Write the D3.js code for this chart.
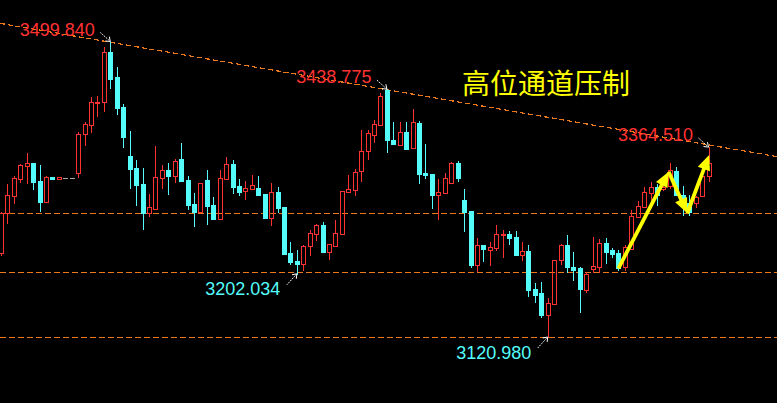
<!DOCTYPE html>
<html><head><meta charset="utf-8">
<script src="https://cdn.jsdelivr.net/npm/d3@7"></script>
<style>html,body{margin:0;padding:0;background:#000;overflow:hidden}svg{display:block}</style>
</head><body><svg id="c" width="777" height="403"></svg>
<script>
// ---- data ----
const open = [3228.7,3280.3,3302.1,3323.9,3340.6,3344.1,3321.0,3294.5,3325.7,3323.9,
3325.2,3325.2,3331.6,3380.9,3393.2,3421.4,3421.9,3486.4,3454.3,3415.9,
3353.1,3337.7,3317.1,3279.6,3285.5,3325.2,3335.1,3327.8,3349.2,3322.3,
3291.5,3281.6,3322.3,3290.2,3272.7,3323.9,3342.8,3314.6,3307.8,3311.1,
3312.0,3304.3,3274.0,3306.9,3287.7,3228.7,3218.4,3214.6,3237.7,3253.4,
3264.6,3230.0,3237.7,3253.4,3306.9,3309.8,3334.2,3359.1,3380.4,3393.2,
3437.7,3373.6,3367.5,3383.8,3363.7,3395.4,3331.6,3330.0,3303.4,3306.0,
3318.8,3344.1,3296.6,3282.5,3213.3,3239.0,3232.5,3235.1,3251.8,3253.1,
3249.2,3226.1,3231.3,3182.5,3177.4,3149.2,3163.3,3219.7,3239.0,3210.7,
3209.5,3181.3,3208.2,3210.7,3241.5,3232.5,3228.7,3210.7,3233.8,3274.9,
3287.7,3305.6,3313.3,3310.8,3314.6,3333.8,3303.0,3292.8,3292.8,3301.8,
3327.4];
const close = [3280.0,3303.0,3324.4,3341.1,3343.7,3319.7,3294.1,3326.1,3323.9,3325.7,
3325.2,3325.2,3381.3,3394.1,3422.3,3422.3,3486.4,3451.8,3414.6,3377.8,
3336.8,3316.3,3279.6,3287.3,3326.1,3335.1,3327.8,3346.6,3321.4,3290.6,
3281.2,3318.4,3289.3,3272.7,3324.9,3342.8,3313.7,3306.9,3312.0,3315.9,
3303.0,3273.6,3306.9,3286.8,3227.4,3217.2,3214.6,3237.7,3254.3,3264.6,
3230.0,3240.2,3254.3,3308.2,3310.8,3332.5,3359.5,3382.5,3394.1,3430.0,
3373.6,3368.4,3383.8,3362.4,3396.7,3330.0,3328.7,3303.0,3306.9,3324.9,
3344.1,3324.9,3281.2,3213.3,3239.0,3233.8,3236.4,3253.1,3253.1,3247.9,
3226.1,3231.3,3181.3,3174.8,3149.2,3164.6,3219.7,3239.0,3210.7,3206.9,
3182.5,3201.8,3212.0,3241.5,3230.0,3227.4,3209.5,3236.4,3276.1,3289.0,
3306.9,3313.3,3303.0,3313.3,3335.1,3303.0,3292.8,3281.2,3300.5,3327.4,
3344.1];
const high = [3281.2,3317.1,3327.4,3342.8,3356.5,3344.1,3341.1,3327.4,3325.7,3325.7,
3325.2,3325.2,3383.8,3396.7,3428.3,3430.0,3492.4,3499.84,3467.2,3419.7,
3385.1,3347.9,3337.7,3304.3,3365.9,3341.5,3343.7,3349.2,3369.7,3327.4,
3305.6,3318.4,3335.1,3300.9,3335.1,3351.8,3347.9,3323.6,3321.0,3328.7,
3327.4,3304.3,3318.4,3313.3,3287.7,3242.8,3232.5,3238.6,3258.2,3265.9,
3268.4,3240.2,3271.0,3308.2,3328.7,3336.4,3386.4,3386.4,3399.2,3433.8,
3438.775,3396.7,3396.7,3396.7,3413.3,3397.9,3368.4,3330.0,3323.6,3331.3,
3345.4,3346.6,3310.8,3282.5,3247.9,3239.0,3242.8,3264.6,3258.2,3256.9,
3256.9,3242.8,3239.0,3190.2,3191.5,3171.0,3219.7,3240.2,3251.8,3230.0,
3210.7,3204.3,3249.2,3246.6,3247.9,3235.1,3232.5,3239.0,3283.8,3295.4,
3313.3,3319.7,3317.1,3315.9,3344.1,3339.0,3314.6,3303.0,3301.8,3327.4,
3364.51];
const low = [3226.1,3267.5,3292.4,3320.1,3318.8,3311.1,3282.9,3294.5,3323.9,3323.9,
3325.2,3325.2,3326.5,3367.5,3383.8,3404.3,3411.1,3439.9,3406.9,3364.6,
3312.4,3290.6,3259.1,3276.5,3285.5,3312.4,3304.7,3319.7,3321.4,3285.5,
3263.7,3281.6,3266.3,3272.7,3272.7,3323.9,3306.0,3303.4,3298.3,3311.1,
3303.0,3273.6,3265.0,3281.6,3227.4,3214.6,3202.034,3206.9,3226.1,3245.4,
3230.0,3221.0,3237.7,3253.4,3306.9,3303.4,3321.4,3349.2,3371.4,3393.2,
3358.6,3368.4,3367.5,3362.4,3363.7,3318.8,3325.2,3286.4,3272.3,3306.0,
3318.8,3321.4,3256.9,3211.1,3206.0,3218.4,3213.3,3232.5,3223.6,3240.2,
3226.1,3219.7,3173.6,3165.9,3146.6,3120.98,3163.3,3214.6,3204.3,3194.1,
3153.1,3178.7,3204.3,3204.3,3215.9,3223.6,3206.9,3206.9,3233.8,3274.9,
3287.7,3296.6,3290.2,3309.5,3312.0,3303.0,3277.4,3277.4,3287.7,3301.8,
3321.0];
const levelLines = [3280.0, 3203.8, 3120.98];
const trendLine = [{i: -0.2, v: 3523.2}, {i: 120.7, v: 3352.2}];
const highMarks = [{i: 17, v: 3499.84, label: "3499.840"}, {i: 60, v: 3438.775, label: "3438.775"}, {i: 110, v: 3364.51, label: "3364.510"}];
const lowMarks = [{i: 46, v: 3202.034, label: "3202.034"}, {i: 85, v: 3120.98, label: "3120.980"}];
const arrowPath = [{i: 96.0, v: 3209.1}, {i: 103.8, v: 3332.9}, {i: 106.7, v: 3279.6}, {i: 110.1, v: 3354.3}];
const title = "高位通道压制";

// ---- drawing ----
const W = 777, H = 403;
const RED = "#ff3232", CYAN = "#54fcfc", GREY = "#a8a8a8", ORANGE = "#ec7a1c";
const svg = d3.select("#c");
svg.append("rect").attr("width", W).attr("height", H).attr("fill", "#000");

const x = d3.scaleLinear().domain([0, open.length - 1]).range([1, 708.5]);
const y = d3.scaleLinear().domain([3120.98, 3499.84]).range([337, 41.5]);
const py = v => Math.round(y(v));

// horizontal dashed levels
svg.append("g").selectAll("line").data(levelLines).join("line")
  .attr("x1", 0).attr("x2", W)
  .attr("y1", d => py(d) + 0.5).attr("y2", d => py(d) + 0.5)
  .attr("stroke", ORANGE).attr("stroke-width", 1).attr("stroke-dasharray", "6,3")
  .attr("shape-rendering", "crispEdges");

// trend line
svg.append("line")
  .attr("x1", x(trendLine[0].i)).attr("y1", y(trendLine[0].v))
  .attr("x2", x(trendLine[1].i)).attr("y2", y(trendLine[1].v))
  .attr("stroke", ORANGE).attr("stroke-width", 1.2).attr("stroke-dasharray", "5,3")
  .attr("shape-rendering", "crispEdges");

// candles
const data = open.map((o, i) => ({i, o, c: close[i], h: high[i], l: low[i]}));
const cg = svg.append("g").attr("shape-rendering", "crispEdges");
data.forEach(d => {
  const L = Math.round(x(d.i)) - 2;
  const wx = L + 2.5;
  const top = py(Math.max(d.o, d.c)), bot = py(Math.min(d.o, d.c));
  const hy = py(d.h), ly = py(d.l);
  if (d.o === d.c) {
    cg.append("line").attr("x1", wx).attr("x2", wx).attr("y1", hy).attr("y2", ly + 1).attr("stroke", GREY);
    cg.append("rect").attr("x", L).attr("y", top).attr("width", 5).attr("height", 1).attr("fill", GREY);
  } else if (d.c > d.o) {
    if (hy < top) cg.append("line").attr("x1", wx).attr("x2", wx).attr("y1", hy).attr("y2", top).attr("stroke", RED);
    if (ly > bot) cg.append("line").attr("x1", wx).attr("x2", wx).attr("y1", bot).attr("y2", ly + 1).attr("stroke", RED);
    cg.append("rect").attr("x", L + 0.5).attr("y", top + 0.5).attr("width", 4)
      .attr("height", Math.max(bot - top, 1)).attr("fill", "none").attr("stroke", RED);
  } else {
    cg.append("line").attr("x1", wx).attr("x2", wx).attr("y1", hy).attr("y2", ly + 1).attr("stroke", CYAN);
    cg.append("rect").attr("x", L).attr("y", top).attr("width", 5)
      .attr("height", Math.max(bot - top + 1, 2)).attr("fill", CYAN);
  }
});

// small white pointer arrows
function whiteArrow(x0, y0, x1, y1) {
  const g = svg.append("g").attr("stroke", "#fff").attr("stroke-width", 1).attr("fill", "none");
  g.append("line").attr("x1", x0).attr("y1", y0).attr("x2", x1).attr("y2", y1).attr("stroke-dasharray", "1.5,1");
  const a = Math.atan2(y1 - y0, x1 - x0);
  const hl = 5;
  [a + Math.PI * 0.8, a - Math.PI * 0.8].forEach(b => {
    g.append("line").attr("x1", x1).attr("y1", y1)
      .attr("x2", x1 + hl * Math.cos(b)).attr("y2", y1 + hl * Math.sin(b));
  });
}
const font = "'Liberation Sans', Arial, sans-serif";
highMarks.forEach(m => {
  const tx = x(m.i), ty = y(m.v);
  whiteArrow(tx - 10, ty - 9, tx, ty);
  svg.append("text").attr("x", tx - 15.5).attr("y", ty - 6).attr("text-anchor", "end")
    .attr("font-family", font).attr("font-size", 18).attr("fill", RED).text(m.label);
});
lowMarks.forEach(m => {
  const tx = x(m.i), ty = y(m.v);
  whiteArrow(tx - 10, ty + 11, tx, ty);
  svg.append("text").attr("x", tx - 16.5).attr("y", ty + 21.5).attr("text-anchor", "end")
    .attr("font-family", font).attr("font-size", 18).attr("fill", CYAN).text(m.label);
});

// yellow arrows
const YEL = "#ffff00";
for (let k = 0; k < arrowPath.length - 1; k++) {
  const p0 = {x: x(arrowPath[k].i), y: y(arrowPath[k].v)};
  const p1 = {x: x(arrowPath[k + 1].i), y: y(arrowPath[k + 1].v)};
  const dx = p1.x - p0.x, dy = p1.y - p0.y, len = Math.hypot(dx, dy);
  const ux = dx / len, uy = dy / len, nx = -uy, ny = ux;
  const headL = 15, headW = 6.5;
  svg.append("line").attr("x1", p0.x).attr("y1", p0.y)
    .attr("x2", p1.x - ux * (headL - 2)).attr("y2", p1.y - uy * (headL - 2))
    .attr("stroke", YEL).attr("stroke-width", 3.8);
  const bx = p1.x - ux * headL, by = p1.y - uy * headL;
  svg.append("path")
    .attr("d", `M${p1.x},${p1.y}L${bx + nx * headW},${by + ny * headW}L${bx - nx * headW},${by - ny * headW}Z`)
    .attr("fill", YEL);
}

// title
svg.append("text").attr("x", 462).attr("y", 94)
  .attr("font-family", "'Noto Sans CJK SC', sans-serif").attr("font-size", 28)
  .attr("fill", YEL).text(title);
</script>
</body></html>
